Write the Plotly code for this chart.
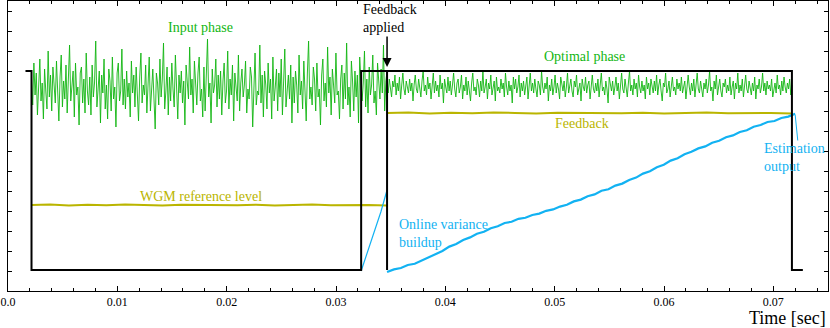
import numpy as np
import plotly.graph_objects as go

# ---- data ----
# gate signal (black)
gate_t = [0.0016, 0.00215, 0.00215, 0.0323, 0.0323, 0.03467, 0.03467, 0.03467, 0.0717, 0.0717, 0.0727]
gate_y = [11.0, 11.0, 1.05, 1.05, 11.0, 11.0, 1.05, 11.0, 11.0, 1.05, 1.05]

# input phase (green), sampled between t=0.00215 and t=0.03467
input_t0, input_t1 = 0.00215, 0.03467
input_phase = [
    10.6, 9.3, 11.4, 9.8, 10.9, 8.8, 10.2, 11.6, 9.5, 10.4, 8.6, 11.1, 10.0, 9.1, 12.0, 9.7, 10.8, 9.0, 11.2, 10.3,
    9.4, 11.5, 9.9, 8.5, 10.7, 11.8, 9.2, 10.5, 9.6, 11.3, 8.9, 10.6, 12.3, 9.5, 10.1, 11.0, 8.7, 11.4, 9.8, 10.2,
    8.3, 10.9, 11.2, 9.4, 10.6, 8.9, 11.9, 10.0, 9.3, 10.7, 8.8, 11.3, 9.7, 10.4, 12.5, 9.2, 10.1, 11.0, 8.4, 10.8,
    9.9, 11.6, 9.1, 10.3, 8.6, 11.1, 10.5, 9.0, 11.7, 9.6, 10.2, 8.2, 10.9, 11.4, 9.5, 10.0, 12.1, 9.3, 10.6, 9.1,
    11.0, 9.7, 10.4, 8.7, 11.5, 9.9, 10.8, 9.2, 11.2, 10.1, 8.5, 10.7, 11.9, 9.4, 10.3, 9.8, 11.3, 8.9, 10.5, 11.7,
    9.0, 10.2, 11.1, 9.6, 8.1, 10.9, 10.4, 9.3, 11.6, 9.7, 10.6, 12.4, 9.1, 10.0, 11.2, 8.8, 10.7, 9.5, 11.4, 10.1,
    9.2, 11.8, 10.3, 8.6, 10.8, 9.9, 11.0, 9.4, 10.5, 8.3, 11.3, 10.2, 9.6, 12.2, 9.8, 10.6, 8.9, 11.5, 10.0, 9.3,
    10.9, 11.7, 9.5, 10.1, 8.7, 11.2, 9.0, 10.7, 12.6, 9.7, 10.4, 8.4, 11.1, 9.9, 10.3, 11.6, 9.2, 10.8, 9.6, 11.0,
    8.8, 10.5, 11.4, 9.4, 10.0, 12.0, 9.1, 10.6, 9.8, 11.3, 8.5, 10.9, 10.2, 9.5, 11.8, 9.0, 10.4, 11.1, 9.7, 10.3,
    11.5, 8.9, 10.1, 9.6, 11.2, 10.7, 8.2, 10.5, 11.9, 9.3, 10.0, 9.8, 12.3, 9.4, 10.8, 8.7, 11.0, 10.3, 9.1, 11.4,
    9.9, 10.6, 8.6, 11.7, 9.5, 10.2, 11.1, 9.0, 10.9, 9.7, 11.6, 8.8, 10.4, 12.1, 9.2, 10.1, 10.8, 9.6, 11.3, 8.4,
    10.7, 9.4, 11.0, 10.3, 8.9, 11.8, 9.8, 10.5, 9.1, 11.5, 10.0, 8.5, 10.9, 12.5, 9.6, 10.2, 9.3, 11.2, 10.6, 9.0,
    11.4, 9.7, 10.1, 8.3, 10.8, 11.6, 9.5, 10.4, 9.2, 12.2, 9.9, 10.7, 8.8, 11.1, 10.3, 9.4, 11.9, 9.8, 10.0, 8.6,
    10.6, 11.3, 9.1, 10.9, 9.6, 12.4, 9.3, 10.2, 8.7, 11.5, 10.5, 9.0, 11.0, 9.7, 10.8, 8.4, 11.7, 10.1, 9.5, 10.4,
    12.0, 9.2, 10.6, 8.9, 11.2, 9.8, 10.3, 11.8, 9.4, 10.0, 8.8, 11.4, 10.7, 9.6, 11.1, 9.9, 12.3, 9.0, 10.5, 11.0,
]

# optimal phase (green), after feedback is applied
optimal_t0, optimal_t1 = 0.03467, 0.0717
optimal_phase = [
    10.3, 9.9, 10.6, 10.1, 9.7, 10.5, 10.2, 10.8, 9.8, 10.4, 10.0, 10.7, 9.6, 10.3, 10.9, 10.1, 9.8, 10.5, 10.2, 9.9,
    10.6, 10.0, 10.4, 9.5, 10.3, 10.8, 10.1, 9.9, 10.6, 10.2, 9.7, 10.5, 11.0, 10.0, 10.3, 9.8, 10.7, 10.1, 10.4, 9.6,
    10.2, 10.9, 9.9, 10.5, 10.0, 10.3, 9.7, 10.8, 10.1, 10.4, 9.4, 10.6, 10.2, 9.9, 10.7, 10.0, 10.5, 9.8, 10.3, 10.9,
    10.1, 9.7, 10.4, 10.6, 9.9, 10.2, 10.8, 9.6, 10.3, 10.0, 10.7, 9.8, 10.5, 10.1, 9.5, 10.4, 10.9, 10.0, 10.2, 9.8,
    10.6, 10.3, 9.7, 10.5, 10.0, 11.0, 9.9, 10.2, 10.6, 9.6, 10.4, 10.1, 10.8, 9.8, 10.3, 10.5, 9.5, 10.7, 10.0, 10.2,
    9.9, 10.6, 10.1, 10.4, 9.7, 10.9, 10.2, 9.8, 10.5, 10.0, 10.3, 9.4, 10.7, 10.1, 10.6, 9.9, 10.2, 10.8, 9.7, 10.4,
    10.0, 10.5, 9.8, 10.3, 10.7, 9.6, 10.2, 10.9, 10.0, 10.4, 9.9, 10.6, 10.1, 9.7, 10.5, 10.3, 9.8, 11.0, 10.2, 9.9,
    10.4, 10.1, 10.7, 9.5, 10.3, 10.0, 10.6, 9.8, 10.2, 10.8, 9.9, 10.4, 10.1, 9.6, 10.7, 10.3, 10.0, 10.5, 9.7, 10.2,
    10.9, 9.9, 10.3, 10.6, 10.0, 9.7, 10.5, 10.2, 10.8, 9.8, 10.1, 10.4, 9.5, 10.6, 10.2, 10.0, 10.7, 9.9, 10.3, 10.5,
    9.6, 10.2, 10.8, 10.1, 9.9, 10.4, 10.0, 10.6, 9.7, 10.3, 10.9, 10.0, 10.2, 9.8, 10.5, 10.1, 9.4, 10.7, 10.3, 10.0,
    10.5, 9.8, 10.2, 10.7, 10.0, 10.4, 9.6, 10.3, 10.9, 10.1, 9.9, 10.6, 10.2, 9.7, 10.4, 11.0, 10.0, 10.3, 9.8, 10.6,
    10.1, 10.4, 9.7, 10.8, 10.2, 9.9, 10.5, 10.0, 10.3, 9.6, 10.7, 10.1, 10.4, 9.8, 10.6, 10.2, 9.9, 10.5, 10.0, 10.8,
    9.8, 10.3, 10.6, 10.0, 9.5, 10.4, 10.2, 10.9, 9.9, 10.1, 10.5, 9.7, 10.3, 10.7, 10.0, 10.2, 9.8, 10.6, 10.1, 10.4,
    10.0, 10.7, 9.9, 10.3, 10.5, 9.6, 10.1, 10.8, 10.2, 9.8, 10.4, 10.0, 10.6, 9.7, 10.3, 10.9, 10.1, 9.9, 10.5, 10.2,
    9.7, 10.4, 10.1, 10.6, 9.9, 10.3, 11.0, 10.0, 10.2, 9.5, 10.5, 10.1, 10.8, 9.8, 10.3, 10.6, 10.0, 9.7, 10.4, 10.2,
    10.6, 9.9, 10.3, 10.0, 10.7, 9.8, 10.2, 10.5, 9.6, 10.4, 10.1, 10.9, 9.9, 10.3, 10.0, 10.6, 9.7, 10.2, 10.8, 10.1,
    9.9, 10.5, 10.2, 9.8, 10.4, 10.0, 10.7, 9.6, 10.3, 10.1, 10.6, 9.9, 10.2, 10.9, 10.0, 10.4, 9.8, 10.5, 10.1, 10.3,
    10.0, 10.6, 9.7, 10.2, 10.4, 9.9, 10.8, 10.1, 10.3, 9.8, 10.5, 10.0, 10.7, 10.2, 9.9, 10.4, 10.1, 10.6, 9.8, 10.3,
]

# WGM reference level and feedback level (olive)
wgm_level = [4.30, 4.32, 4.28, 4.31, 4.29, 4.33, 4.30, 4.27, 4.31, 4.30,
             4.32, 4.29, 4.31, 4.28, 4.30, 4.33, 4.29, 4.31, 4.30, 4.28]
feedback_level = [8.90, 8.92, 8.88, 8.91, 8.89, 8.93, 8.90, 8.87, 8.91, 8.90,
                  8.92, 8.89, 8.91, 8.88, 8.90, 8.93, 8.89, 8.91, 8.90, 8.88]

# online variance (blue)
ramp_t = [0.0323, 0.0329, 0.0335, 0.0341, 0.03467]
ramp_y = [1.0, 2.0, 2.95, 3.95, 5.05]
variance_t0, variance_t1 = 0.03467, 0.0720
variance = [0.95, 1.08, 1.15, 1.30, 1.36, 1.52, 1.66, 1.86, 2.00, 2.22,
            2.35, 2.55, 2.68, 2.86, 2.96, 3.14, 3.24, 3.40, 3.46, 3.61,
            3.66, 3.80, 3.87, 4.01, 4.08, 4.22, 4.31, 4.48, 4.57, 4.74,
            4.83, 5.01, 5.09, 5.27, 5.37, 5.55, 5.67, 5.87, 5.99, 6.19,
            6.31, 6.52, 6.64, 6.84, 6.96, 7.13, 7.23, 7.41, 7.51, 7.69,
            7.78, 7.95, 8.04, 8.21, 8.30, 8.45, 8.50, 8.65, 8.72, 8.86]

x_ticks = [0.0, 0.01, 0.02, 0.03, 0.04, 0.05, 0.06, 0.07]
x_labels = ["0.0", "0.01", "0.02", "0.03", "0.04", "0.05", "0.06", "0.07"]

GREEN = "#12b612"
OLIVE = "#bab500"
BLUE = "#12b2f2"
FONT = "Liberation Serif"

fig = go.Figure()

fig.add_trace(go.Scatter(x=np.linspace(input_t0, input_t1, len(input_phase)), y=input_phase,
                         mode="lines", line=dict(color=GREEN, width=0.9)))
fig.add_trace(go.Scatter(x=np.linspace(optimal_t0, optimal_t1, len(optimal_phase)), y=optimal_phase,
                         mode="lines", line=dict(color=GREEN, width=0.9)))
fig.add_trace(go.Scatter(x=np.linspace(input_t0, input_t1, len(wgm_level)), y=wgm_level,
                         mode="lines", line=dict(color=OLIVE, width=2)))
fig.add_trace(go.Scatter(x=np.linspace(optimal_t0, optimal_t1, len(feedback_level)), y=feedback_level,
                         mode="lines", line=dict(color=OLIVE, width=2)))
fig.add_trace(go.Scatter(x=ramp_t, y=ramp_y, mode="lines", line=dict(color=BLUE, width=1.2)))
fig.add_trace(go.Scatter(x=np.linspace(variance_t0, variance_t1, len(variance)), y=variance,
                         mode="lines", line=dict(color=BLUE, width=2.2)))
fig.add_trace(go.Scatter(x=gate_t, y=gate_y, mode="lines", line=dict(color="black", width=2)))

def label(text, x, y, color, size=14, xanchor="center"):
    fig.add_annotation(x=x, y=y, text=text, showarrow=False, xanchor=xanchor, yanchor="middle",
                       align="left", font=dict(family=FONT, size=size, color=color))

label("Input phase", 0.01765, 13.2, GREEN)
label("Optimal phase", 0.0527, 11.75, GREEN)
label("Feedback", 0.0525, 8.4, OLIVE)
label("WGM reference level", 0.01765, 4.75, OLIVE)
label("Online variance<br>buildup", 0.0356, 2.9, BLUE, xanchor="left")
label("Estimation<br>output", 0.0690, 6.7, BLUE, xanchor="left")
label("Feedback<br>applied", 0.0323, 13.65, "black", xanchor="left")

# arrow for feedback applied
fig.add_annotation(x=0.03467, y=11.2, ax=0.03467, ay=12.8, axref="x", ayref="y", text="",
                   showarrow=True, arrowhead=2, arrowsize=1.2, arrowwidth=1.5, arrowcolor="black")
# pointer line for estimation output
fig.add_annotation(x=0.0720, y=8.8, ax=0.07225, ay=7.45, axref="x", ayref="y", text="",
                   showarrow=True, arrowhead=0, arrowwidth=1, arrowcolor=BLUE)

fig.add_annotation(x=1, y=-0.093, xref="paper", yref="paper", text="Time [sec]", showarrow=False,
                   xanchor="right", yanchor="middle", font=dict(family=FONT, size=18, color="black"))

fig.update_xaxes(range=[0, 0.075], tickvals=x_ticks, ticktext=x_labels, ticks="inside", ticklen=5,
                 tickcolor="black", showline=True, linecolor="black", linewidth=1, mirror="ticks",
                 showgrid=False, zeroline=False,
                 minor=dict(dtick=0.002, ticks="inside", ticklen=3, tickcolor="black"),
                 tickfont=dict(family=FONT, size=12, color="black"))
fig.update_yaxes(range=[0, 14.5], dtick=1, ticks="inside", ticklen=4, tickcolor="black",
                 showticklabels=False, showline=True, linecolor="black", linewidth=1, mirror="ticks",
                 showgrid=False, zeroline=False)

fig.update_layout(width=830, height=328, margin=dict(l=8, r=2, t=1, b=37),
                  paper_bgcolor="white", plot_bgcolor="white", showlegend=False)

# drop the browser's default page margin so the figure sits at the window's corner
fig.write_html("out.html", config={"displayModeBar": False},
               post_script="document.body.style.margin='0';document.body.style.overflow='hidden';")
